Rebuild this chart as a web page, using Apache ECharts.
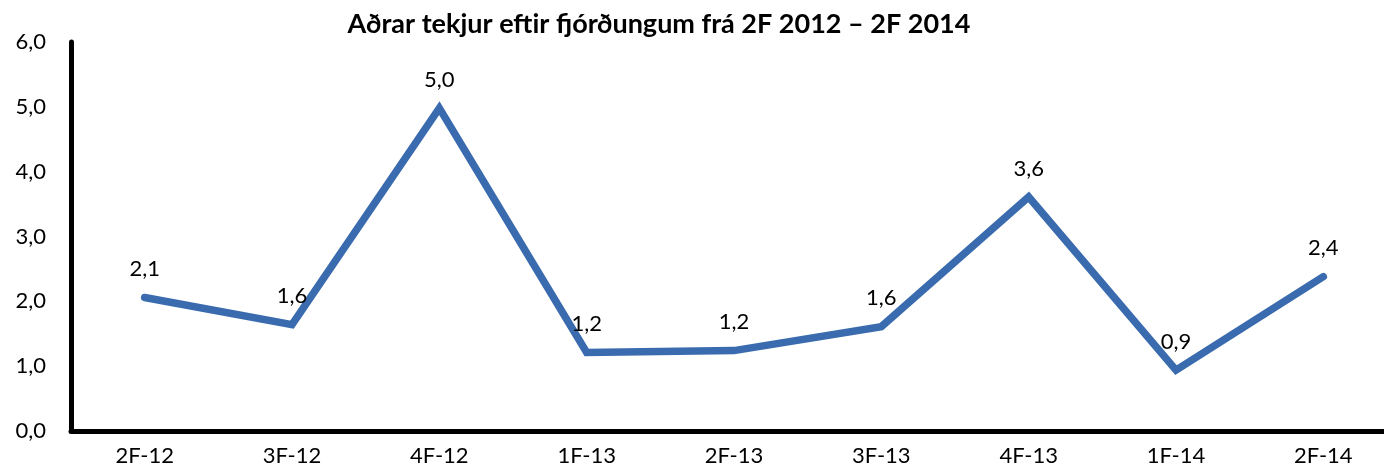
<!DOCTYPE html>
<html>
<head>
<meta charset="utf-8">
<script src="https://cdn.jsdelivr.net/npm/echarts@6/dist/echarts.min.js"></script>
<style>html,body{margin:0;padding:0;background:#fff}#c{width:1384px;height:468px}</style>
</head>
<body>
<div id="c"></div>
<script>
const titleText = 'Aðrar tekjur eftir fjórðungum frá 2F 2012 – 2F 2014';
const categories = ['2F-12','3F-12','4F-12','1F-13','2F-13','3F-13','4F-13','1F-14','2F-14'];
const values = [2.06, 1.64, 4.98, 1.21, 1.24, 1.61, 3.61, 0.94, 2.38];
const yTicks = [0, 1, 2, 3, 4, 5, 6];

const fmt = v => Number(v).toFixed(1).replace('.', ',');
const font = 'Lato, "Open Sans", sans-serif';

const chart = echarts.init(document.getElementById('c'), null, {renderer: 'canvas'});
chart.setOption({
  animation: false,
  backgroundColor: '#fff',
  title: {
    text: titleText,
    left: 654, top: 6, textAlign: 'center',
    textStyle: {fontFamily: font, fontWeight: 'bold', fontSize: 27, color: '#000'}
  },
  grid: {left: 71, top: 42, width: 1326, height: 389, containLabel: false, outerBoundsMode: 'none'},
  xAxis: {
    type: 'category',
    data: categories,
    boundaryGap: true,
    axisLine: {lineStyle: {color: '#000', width: 5}},
    axisTick: {show: false},
    axisLabel: {fontFamily: font, fontSize: 22, color: '#000', margin: 14}
  },
  yAxis: {
    type: 'value',
    min: yTicks[0], max: yTicks[yTicks.length - 1], interval: 1,
    axisLine: {show: true, lineStyle: {color: '#000', width: 5}},
    axisTick: {show: false},
    splitLine: {show: false},
    axisLabel: {fontFamily: font, fontSize: 22, color: '#000', margin: 25, formatter: fmt}
  },
  series: [{
    type: 'line',
    data: values,
    symbol: 'circle',
    symbolSize: 1,
    itemStyle: {color: '#3A6BAF'},
    lineStyle: {color: '#3A6BAF', width: 7.5, cap: 'round', join: 'miter'},
    label: {
      show: true, position: 'top', distance: 17,
      fontFamily: font, fontSize: 22, color: '#000',
      formatter: p => fmt(p.value)
    }
  }]
});
</script>
</body>
</html>
